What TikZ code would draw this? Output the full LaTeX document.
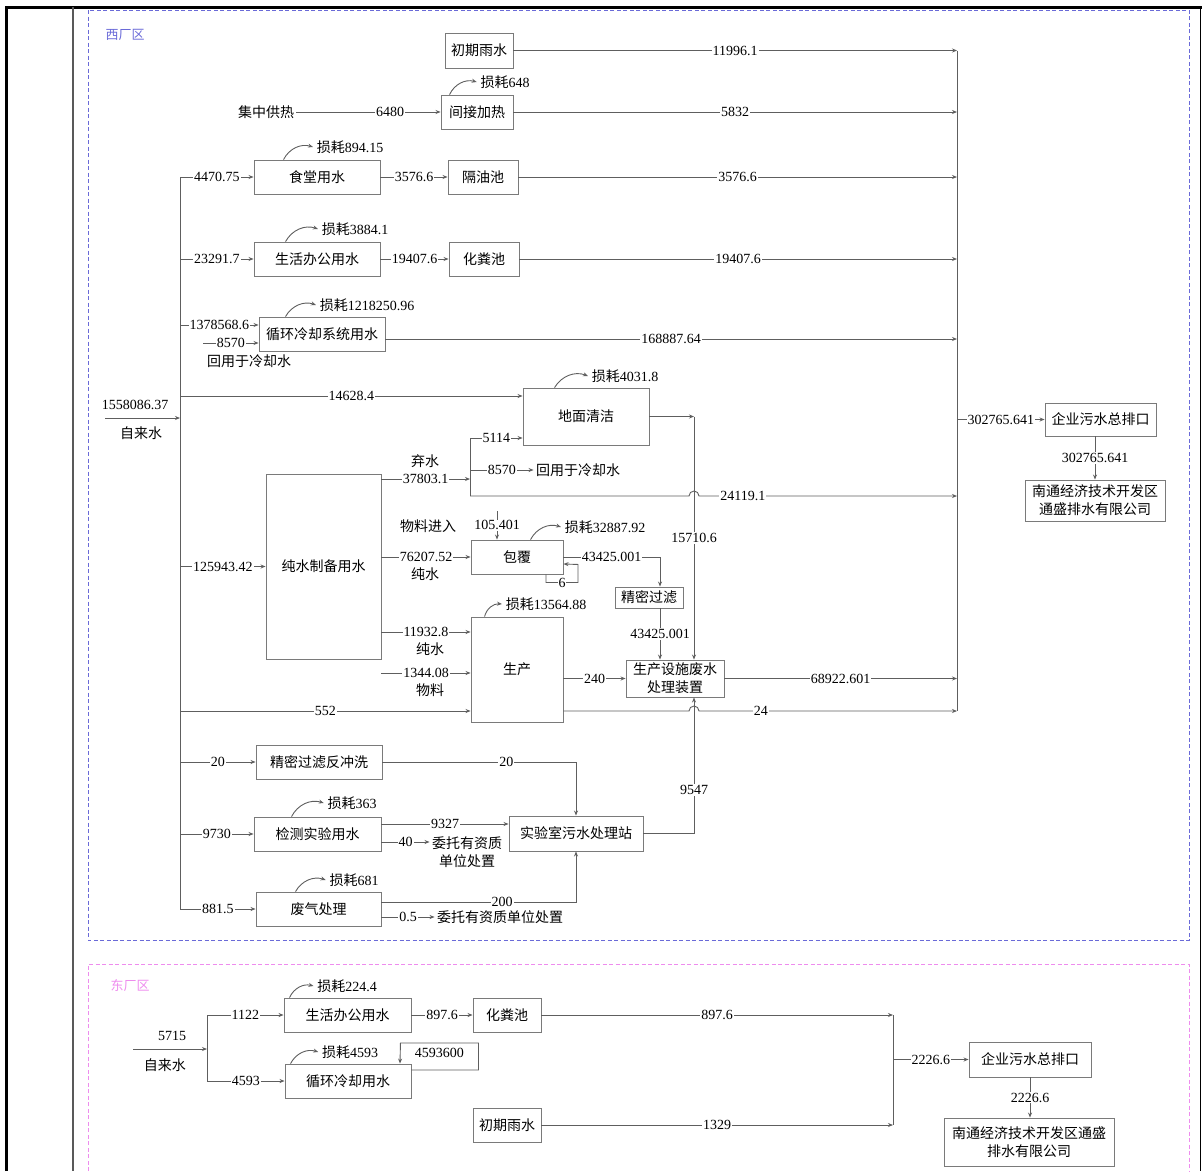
\documentclass[tikz,border=0pt]{standalone}
\usepackage{fontspec}
\setmainfont{Liberation Serif}
\newfontfamily\cjk{Noto Sans CJK SC}
\usetikzlibrary{arrows.meta, calc}
\definecolor{cline}{HTML}{5E5E5E}
\definecolor{cbox}{HTML}{7A7A7A}
\definecolor{cwest}{HTML}{6A6AD8}
\definecolor{ceast}{HTML}{EE8CEE}
\newcommand{\loss}[1]{{\cjk 损耗}#1}
\tikzset{
  every picture/.style={font=\fontsize{14}{18}\selectfont, line width=0.9pt},
  box/.style={draw=cbox, fill=white, font=\cjk\fontsize{14}{18}\selectfont, align=center, inner sep=2pt, minimum height=34pt},
  flow/.style={draw=cline, -{Stealth[length=5pt, width=4pt]}},
  wire/.style={draw=cline},
  num/.style={fill=white, inner sep=1pt},
  txt/.style={font=\cjk\fontsize{14}{18}\selectfont, inner sep=2pt, align=center},
  lossarc/.style={flow, bend left=40},
  zone/.style={draw=#1, dash pattern=on 4pt off 2.5pt, line width=0.8pt},
}

\begin{document}
\begin{tikzpicture}[x=1pt, y=-1pt]
  \useasboundingbox (0,0) rectangle (1202,1171);
  % table frame
  \draw[black, line width=3pt] (6,1171) -- (6,7) -- (1202,7);
  \draw[black, line width=1.5pt] (1200.5,7) -- (1200.5,1171);
  \draw[black!65, line width=2pt] (73,7) -- (73,1171);
  % zones
  \draw[zone=cwest] (88,10) rectangle (1189,940);
  \draw[zone=ceast] (88,1171) -- (88,964) -- (1189,964) -- (1189,1171);
  \node[text=cwest, font=\cjk\fontsize{13}{15}\selectfont] (zoneW) at (125,35) {西厂区};
  \node[text=ceast, font=\cjk\fontsize{13}{15}\selectfont] (zoneE) at (130,985) {东厂区};

  % ---- west plant: boxes
  \node[box, minimum width=68pt, minimum height=35pt] (rainW) at (479,50.5) {初期雨水};
  \node[txt] (heatsrc) at (266,112) {集中供热};
  \node[box, minimum width=72pt] (heat) at (477,112) {间接加热};
  \node[box, minimum width=126pt] (canteen) at (317,177) {食堂用水};
  \node[box, minimum width=70pt] (oilpit) at (483,177) {隔油池};
  \node[box, minimum width=126pt] (officeW) at (317,259) {生活办公用水};
  \node[box, minimum width=70pt] (septicW) at (484,259) {化粪池};
  \node[box, minimum width=126pt] (coolW) at (322,334) {循环冷却系统用水};
  \node[box, minimum width=126pt, minimum height=57pt] (floor) at (586,416.5) {地面清洁};
  \node[box, minimum width=115pt, minimum height=185pt] (purew) at (323.5,566.5) {纯水制备用水};
  \node[box, minimum width=92pt] (coat) at (517,557) {包覆};
  \node[box, minimum width=68pt, minimum height=21pt] (filter) at (649,597.5) {精密过滤};
  \node[box, minimum width=92pt, minimum height=105pt] (prod) at (517,669.5) {生产};
  \node[box, minimum width=98pt, minimum height=37pt] (wtp) at (675,678.5) {生产设施废水\\处理装置};
  \node[box, minimum width=126pt] (backwash) at (319,762) {精密过滤反冲洗};
  \node[box, minimum width=127pt] (lab) at (317.5,834) {检测实验用水};
  \node[box, minimum width=134pt, minimum height=35pt] (labwtp) at (576,833.5) {实验室污水处理站};
  \node[box, minimum width=125pt] (gas) at (318.5,909) {废气处理};
  \node[box, minimum width=111pt, minimum height=33pt] (outW) at (1100.5,419.5) {企业污水总排口};
  \node[box, minimum width=140pt, minimum height=41pt] (parkW) at (1095,500.5) {南通经济技术开发区\\通盛排水有限公司};

  % loss labels
  \node (l648) at (505,82) {\loss{648}};
  \node (l894) at (350,147) {\loss{894.15}};
  \node (l3884) at (355,229) {\loss{3884.1}};
  \node (l1218) at (367,305) {\loss{1218250.96}};
  \node (l4031) at (625,376) {\loss{4031.8}};
  \node (l32887) at (605,527) {\loss{32887.92}};
  \node (l13564) at (546,604) {\loss{13564.88}};
  \node (l363) at (352,803) {\loss{363}};
  \node (l681) at (354,880) {\loss{681}};
  \draw[lossarc] ([xshift=9pt]heat.north west) to (l648.west);
  \draw[lossarc] ([xshift=30pt]canteen.north west) to (l894.west);
  \draw[lossarc] ([xshift=32pt]officeW.north west) to (l3884.west);
  \draw[lossarc] ([xshift=27pt]coolW.north west) to (l1218.west);
  \draw[lossarc] ([xshift=32pt]floor.north west) to (l4031.west);
  \draw[lossarc] ([xshift=60pt]coat.north west) to (l32887.west);
  \draw[lossarc] ([xshift=14pt]prod.north west) to (l13564.west);
  \draw[lossarc] ([xshift=38pt]lab.north west) to (l363.west);
  \draw[lossarc] ([xshift=40pt]gas.north west) to (l681.west);

  % side texts
  \node[txt] (reuse1) at (249,361) {回用于冷却水};
  \node[txt] (discard) at (425,461) {弃水};
  \node[txt] (reuse2) at (578,470) {回用于冷却水};
  \node[txt] (mat1) at (428,526) {物料进入};
  \node[txt] (pure1) at (425,574) {纯水};
  \node[txt] (pure2) at (430,649) {纯水};
  \node[txt] (mat2) at (430,690) {物料};
  \node[txt] (dispose1) at (467,852.5) {委托有资质\\单位处置};
  \node[txt] (dispose2) at (500,917) {委托有资质单位处置};

  % junctions
  \coordinate (inW) at (105,418);
  \coordinate (trunkW) at (180,418);
  \coordinate (colW) at (957,420);
  \coordinate (jQ) at (470,479);
  \coordinate (jQt) at (470,438);
  \coordinate (jQb) at (470,496);
  \coordinate (jN) at (694,419);
  \coordinate (jF) at (660,557);
  \coordinate (rIn) at (203,343);
  \coordinate (matTop) at (497,511);
  \coordinate (coolIn) at ([yshift=9pt]coolW.west);
  \coordinate (coolIn2) at ([yshift=-9pt]coolW.west);
  \coordinate (coolOut) at ([yshift=-5pt]coolW.east);
  \coordinate (floorIn) at ([yshift=20.5pt]floor.west);
  \coordinate (prodIn1) at ([yshift=37.5pt]prod.west);
  \coordinate (prodIn2) at ([yshift=-3.5pt]prod.west);
  \coordinate (prodIn3) at ([yshift=-41.5pt]prod.west);
  \coordinate (prodOut) at ([yshift=-41.5pt]prod.east);
  \coordinate (labIn) at ([yshift=10pt]lab.east);
  \coordinate (labOut) at ([yshift=-8pt]lab.east);
  \coordinate (gasOut) at ([yshift=7pt]gas.east);
  \coordinate (gasOut2) at ([yshift=-8pt]gas.east);

  % tap water trunk
  \draw[flow] (inW) -- node[above=5pt, pos=.4] {1558086.37} node[txt, below=6pt, pos=.48] {自来水} (trunkW);
  \draw[wire] (canteen.west -| trunkW) -- (gas.west -| trunkW);
  \draw[flow] (canteen.west -| trunkW) -- node[num] {4470.75} (canteen);
  \draw[flow] (officeW.west -| trunkW) -- node[num] {23291.7} (officeW);
  \draw[flow] (coolIn -| trunkW) -- node[num] {1378568.6} (coolIn);
  \draw[flow] (rIn) -- node[num] {8570} (coolIn2);
  \draw[flow] (floorIn -| trunkW) -- node[num] {14628.4} (floorIn);
  \draw[flow] (purew.west -| trunkW) -- node[num] {125943.42} (purew);
  \draw[flow] (prodIn3 -| trunkW) -- node[num] {552} (prodIn3);
  \draw[flow] (backwash.west -| trunkW) -- node[num] {20} (backwash);
  \draw[flow] (lab.west -| trunkW) -- node[num] {9730} (lab);
  \draw[flow] (gas.west -| trunkW) -- node[num] {881.5} (gas);

  % upper rows
  \draw[flow] (heatsrc) -- node[num, pos=.65] {6480} (heat);
  \draw[flow] (rainW) -- node[num] {11996.1} (rainW -| colW);
  \draw[flow] (heat) -- node[num] {5832} (heat -| colW);
  \draw[flow] (canteen) -- node[num] {3576.6} (oilpit);
  \draw[flow] (oilpit) -- node[num] {3576.6} (oilpit -| colW);
  \draw[flow] (officeW) -- node[num] {19407.6} (septicW);
  \draw[flow] (septicW) -- node[num] {19407.6} (septicW -| colW);
  \draw[flow] (coolOut) -- node[num] {168887.64} (coolOut -| colW);

  % pure water and floor cleaning
  \draw[flow] (jQ -| purew.east) -- node[num] {37803.1} (jQ);
  \draw[wire] (jQt) -- (jQb);
  \draw[flow] (jQt) -- node[num] {5114} (jQt -| floor.west);
  \draw[flow] (jQ |- reuse2) -- node[num] {8570} (reuse2);
  \draw[flow] (jQb) -- ($(jQb -| jN)+(-5,0)$) arc[start angle=180, end angle=0, radius=5pt]
    -- node[num, pos=.17] {24119.1} (jQb -| colW);
  \draw[flow] (floor) -- (floor -| jN);
  \draw[flow] (floor -| jN) -- node[num] {15710.6} (jN |- wtp.north);

  % coating
  \draw[flow] (coat.west -| purew.east) -- node[num] {76207.52} (coat);
  \draw[flow] (matTop) -- node[num, inner sep=0.5pt] {105.401} (matTop |- coat.north);
  \draw[flow] ([xshift=29pt]coat.south) -- ++(0,8) -- node[num, inner sep=0.5pt] {6} ++(32,0) -- ++(0,-18) -- ([yshift=-7pt]coat.east);
  \draw[flow] (coat) -- node[num] {43425.001} (jF) -- (jF |- filter.north);
  \draw[flow] (jF |- filter.south) -- node[num] {43425.001} (jF |- wtp.north);

  % production
  \draw[flow] (prodIn1 -| purew.east) -- node[num] {11932.8} (prodIn1);
  \draw[flow] (prodIn2 -| purew.east) -- node[num] {1344.08} (prodIn2);
  \draw[flow] (wtp.west -| prod.east) -- node[num] {240} (wtp);
  \draw[flow] (prodOut) -- ($(prodOut -| jN)+(-5,0)$) arc[start angle=180, end angle=0, radius=5pt]
    -- node[num, pos=.24] {24} (prodOut -| colW);
  \draw[flow] (wtp) -- node[num] {68922.601} (wtp -| colW);

  % lab water
  \draw[flow] (backwash) -- node[num, pos=.64] {20} (backwash -| labwtp) -- (labwtp);
  \draw[flow] (labIn) -- node[num] {9327} (labIn -| labwtp.west);
  \draw[flow] (labOut) -- node[num] {40} (labOut -| dispose1.west);
  \draw[flow] (gasOut) -- node[num, pos=.62] {200} (gasOut -| labwtp) -- (labwtp);
  \draw[flow] (gasOut2) -- node[num] {0.5} (dispose2);
  \draw[flow] (labwtp) -| node[num, pos=.66] {9547} (jN |- wtp.south);

  % west outlet
  \draw[wire] (rainW -| colW) -- (prodOut -| colW);
  \draw[flow] (outW.west -| colW) -- node[num] {302765.641} (outW);
  \draw[flow] (outW.south -| parkW) -- node[num] {302765.641} (parkW);

  % ---- east plant
  \node[box, minimum width=127pt] (officeE) at (347.5,1015) {生活办公用水};
  \node[box, minimum width=126pt] (coolE) at (348,1081) {循环冷却用水};
  \node[box, minimum width=68pt] (septicE) at (507,1015) {化粪池};
  \node[box, minimum width=68pt] (rainE) at (507,1125) {初期雨水};
  \node[box, minimum width=122pt, minimum height=35pt] (outE) at (1030,1059.5) {企业污水总排口};
  \node[box, minimum width=170pt, minimum height=48pt] (parkE) at (1029,1142) {南通经济技术开发区通盛\\排水有限公司};
  \node (l224) at (347,986) {\loss{224.4}};
  \node (l4593) at (350,1052) {\loss{4593}};
  \draw[lossarc] ([xshift=6pt]officeE.north west) to (l224.west);
  \draw[lossarc] ([xshift=6pt]coolE.north west) to (l4593.west);

  \coordinate (inE) at (133,1049);
  \coordinate (jE) at (207,1049);
  \coordinate (colE) at (893,1059);
  \draw[flow] (inE) -- node[above=5pt, pos=.53] {5715} node[txt, below=7pt, pos=.43] {自来水} (jE);
  \draw[wire] (officeE.west -| jE) -- (coolE.west -| jE);
  \draw[flow] (officeE.west -| jE) -- node[num] {1122} (officeE);
  \draw[flow] (coolE.west -| jE) -- node[num] {4593} (coolE);
  \draw[flow] ([yshift=11pt]coolE.east) -| ++(67,-27) -- node[below=1pt] {4593600} ++(-78,0) -- ([xshift=52pt]coolE.north);
  \draw[flow] (officeE) -- node[num] {897.6} (septicE);
  \draw[flow] (septicE) -- node[num] {897.6} (septicE -| colE);
  \draw[flow] (rainE) -- node[num] {1329} (rainE -| colE);
  \draw[wire] (septicE -| colE) -- (rainE -| colE);
  \draw[flow] (outE.west -| colE) -- node[num] {2226.6} (outE);
  \draw[flow] (outE.south) -- node[num] {2226.6} (outE.south |- parkE.north);
\end{tikzpicture}
\end{document}
